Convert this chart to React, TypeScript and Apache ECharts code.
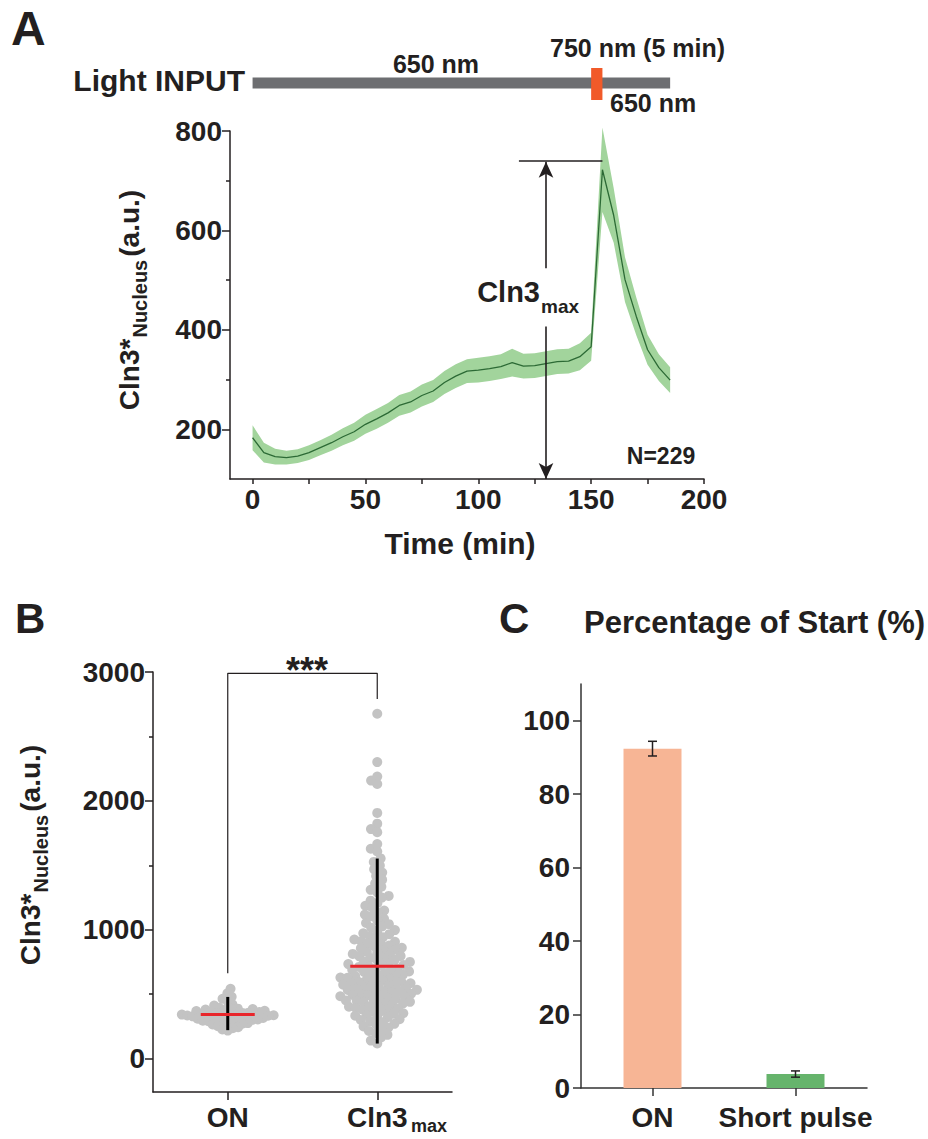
import React, { useEffect, useRef } from 'react';
import * as echarts from 'echarts';

const FONT = '"Liberation Sans", Arial, Helvetica, sans-serif';
const INK = '#231f20';

// ---------- Panel A : time course ----------
const timeMin = [0, 5, 10, 15, 20, 25, 30, 35, 40, 45, 50, 55, 60, 65, 70, 75, 80, 85, 90, 95, 100, 105, 110, 115, 120, 125, 130, 135, 140, 145, 150, 155, 160, 165, 170, 175, 180, 185];
const meanNucleus = [183, 153, 145, 143, 146, 153, 163, 173, 185, 195, 210, 221, 233, 248, 255, 268, 277, 294, 307, 317, 319, 322, 326, 334, 327, 328, 332, 336, 337, 346, 366, 722, 630, 501, 427, 360, 324, 299];
const semNucleus = [25, 20, 16, 14, 14, 15, 15, 16, 17, 18, 19, 20, 20, 21, 21, 22, 22, 23, 24, 24, 25, 25, 25, 28, 25, 25, 25, 25, 25, 27, 28, 85, 55, 45, 38, 30, 27, 26];
const xTicksA = [0, 50, 100, 150, 200];
const xMinorTicksA = [0, 25, 50, 75, 100, 125, 150, 175, 200];
const yTicksA = [200, 400, 600, 800];
const yMinorTicksA = [300, 500, 700];

const lightFrom = [0, 150];
const lightTo = [185, 155];
const lightNames = ['650 nm', '750 nm (5 min)'];

const arrowTime = 130;
const maxLevel = 740;
const maxLineFrom = 118;
const maxLineTo = 155;
const arrowGapTop = 524;
const arrowGapBottom = 407;
const cellCount = 229;

// ---------- Panel B : swarm ----------
const groupNames = ['ON', 'Cln3'];
const onValues = [541, 506, 479, 463, 449, 421, 411, 398, 393, 387, 384, 380, 376, 371, 368, 366, 363, 360, 356, 354, 351, 348, 346, 344, 341, 339, 336, 334, 332, 329, 327, 325, 322, 320, 317, 315, 312, 309, 307, 303, 300, 297, 294, 290, 287, 283, 279, 275, 270, 264, 258, 251, 243, 235, 226, 217];
const cln3maxValues = [2676, 2301, 2188, 2157, 2131, 1906, 1823, 1781, 1757, 1664, 1628, 1607, 1553, 1526, 1499, 1468, 1443, 1416, 1388, 1359, 1334, 1309, 1290, 1262, 1249, 1225, 1207, 1186, 1172, 1148, 1136, 1117, 1104, 1085, 1071, 1052, 1043, 1026, 1015, 997, 988, 972, 965, 949, 942, 929, 924, 911, 906, 893, 889, 877, 872, 860, 855, 844, 840, 827, 823, 812, 808, 796, 793, 781, 779, 766, 764, 752, 750, 739, 733, 726, 724, 713, 711, 701, 699, 688, 686, 676, 673, 663, 661, 651, 649, 639, 638, 628, 626, 617, 615, 605, 604, 594, 593, 584, 582, 573, 572, 563, 561, 553, 552, 543, 542, 533, 532, 523, 522, 513, 512, 503, 502, 493, 492, 483, 481, 473, 471, 462, 460, 451, 449, 440, 438, 428, 426, 416, 414, 404, 402, 392, 389, 379, 376, 365, 362, 351, 347, 336, 332, 321, 316, 305, 299, 288, 281, 269, 262, 249, 240, 226, 214, 198, 184, 163, 139, 117];
const groupMean = [341, 716];
const groupLow = [220, 116];
const groupHigh = [478, 1552];
const yTicksB = [0, 1000, 2000, 3000];
const yMinorTicksB = [500, 1500, 2500];
const bracketBottom = [662, 2790];
const bracketTop = 2990;

// ---------- Panel C : bars ----------
const startCategories = ['ON', 'Short pulse'];
const startPercent = [92.4, 3.8];
const startError = [2.0, 0.85];
const yTicksC = [0, 20, 40, 60, 80, 100];

// ---------- layout / style ----------
const GRID_A = { left: 230, top: 131, width: 474, height: 348 };
const GRID_L = { left: 230, top: 66, width: 474, height: 36 };
const GRID_B = { left: 153, top: 672, width: 299, height: 420 };
const GRID_C = { left: 581, top: 684, width: 286, height: 404 };
const B_MIN = -260, B_MAX = 3000;
const SWARM_SPACING = [5.5, 7];

let measureCtx: CanvasRenderingContext2D | null = null;
function measure(text: string, size: number): number {
  if (!measureCtx) measureCtx = document.createElement('canvas').getContext('2d');
  if (!measureCtx) return text.length * size * 0.6;
  measureCtx.font = `bold ${size}px ${FONT}`;
  return measureCtx.measureText(text).width;
}

function txt(text: string, x: number, y: number, size: number, align = 'left', color = INK): any {
  return {
    type: 'text', x, y, silent: true,
    style: {
      text, font: `bold ${size}px ${FONT}`, fill: color,
      align, verticalAlign: 'middle', textAlign: align, textVerticalAlign: 'middle',
    },
  };
}

function rotatedTitle(cx: number, cy: number, parts: { text: string; size: number; dy: number; gap: number }[]): any {
  const widths = parts.map((p) => measure(p.text, p.size));
  const total = widths.reduce((a, b, i) => a + b + parts[i].gap, 0);
  let pos = -total / 2;
  const children = parts.map((p, i) => {
    const el = txt(p.text, pos, p.dy, p.size, 'left');
    pos += widths[i] + p.gap;
    return el;
  });
  return { type: 'group', x: cx, y: cy, rotation: Math.PI / 2, children };
}

function beeswarm(values: number[], pxPerUnit: number, d: number): number[] {
  const order = values.map((_, i) => i).sort((a, b) => values[a] - values[b]);
  const placed: { x: number; y: number }[] = [];
  const out = new Array(values.length).fill(0);
  for (const i of order) {
    const y = values[i] * pxPerUnit;
    const near = placed.filter((p) => Math.abs(p.y - y) < d);
    const cands = [0];
    near.forEach((p) => {
      const w = Math.sqrt(d * d - (p.y - y) * (p.y - y));
      cands.push(p.x - w, p.x + w);
    });
    cands.sort((a, b) => Math.abs(a) - Math.abs(b) || a - b);
    let x = 0;
    for (const c of cands) {
      if (near.every((p) => (p.x - c) * (p.x - c) + (p.y - y) * (p.y - y) >= d * d - 1e-6)) { x = c; break; }
    }
    placed.push({ x, y });
    out[i] = x;
  }
  return out;
}

const lineStyle = { color: INK, width: 1.5 };
const plain = (v: number) => String(v);
const labelStyle = (margin: number) => ({ color: INK, fontFamily: FONT, fontWeight: 'bold', fontSize: 28, margin, formatter: plain });

function buildOption(): any {
  const mean = timeMin.map((t, i) => [t, meanNucleus[i]]);

  const pxPerUnitB = GRID_B.height / (B_MAX - B_MIN);
  const pxPerX = GRID_B.width / 2;
  const swarmData: number[][] = [];
  [onValues, cln3maxValues].forEach((vals, g) => {
    const offs = beeswarm(vals, pxPerUnitB, SWARM_SPACING[g]);
    vals.forEach((v, i) => swarmData.push([g + 0.5 + offs[i] / pxPerX, v]));
  });
  const markers = groupMean.map((m, g) => [g + 0.5, m, groupLow[g], groupHigh[g]]);
  const bracket = [[0.5, bracketBottom[0]], [0.5, bracketTop], [1.5, bracketTop], [1.5, bracketBottom[1]]];

  const grids = [GRID_A, GRID_L, GRID_B, GRID_C].map((g) => ({ ...g, containLabel: false, outerBoundsMode: 'none' }));

  return {
    animation: false,
    backgroundColor: '#ffffff',
    grid: grids,
    xAxis: [
      {
        gridIndex: 0, type: 'value', min: -10, max: 200,
        axisLine: { show: true, onZero: false, lineStyle },
        axisTick: { show: true, customValues: xMinorTicksA, length: 5, lineStyle },
        axisLabel: { ...labelStyle(6), customValues: xTicksA },
        splitLine: { show: false },
      },
      { gridIndex: 1, type: 'value', min: -10, max: 200, show: false },
      {
        gridIndex: 2, type: 'value', min: 0, max: 2,
        axisLine: { show: true, onZero: false, lineStyle },
        axisTick: { show: true, customValues: [0.5, 1.5], length: 8, lineStyle },
        axisLabel: {
          ...labelStyle(11), customValues: [0.5, 1.5],
          formatter: (v: number) => (v < 1 ? groupNames[0] : groupNames[1]),
        },
        splitLine: { show: false },
      },
      {
        gridIndex: 3, type: 'category', data: startCategories,
        axisLine: { show: true, onZero: false, lineStyle: { color: '#333', width: 1.5 } },
        axisTick: { show: true, alignWithLabel: true, length: 8, lineStyle: { color: '#333', width: 1.5 } },
        axisLabel: { ...labelStyle(15), formatter: undefined, interval: 0 },
        splitLine: { show: false },
      },
    ],
    yAxis: [
      {
        gridIndex: 0, type: 'value', min: 100, max: 800, position: 'left',
        axisLine: { show: true, onZero: false, lineStyle },
        axisTick: { show: true, customValues: yTicksA, length: 8, lineStyle },
        axisLabel: { ...labelStyle(8), customValues: yTicksA },
        splitLine: { show: false },
      },
      {
        gridIndex: 0, type: 'value', min: 100, max: 800, position: 'left',
        axisLine: { show: false, onZero: false },
        axisTick: { show: true, customValues: yMinorTicksA, length: 4, lineStyle },
        axisLabel: { show: false },
        splitLine: { show: false },
      },
      { gridIndex: 1, type: 'value', min: 0, max: 1, show: false },
      {
        gridIndex: 2, type: 'value', min: B_MIN, max: B_MAX, position: 'left',
        axisLine: { show: true, onZero: false, lineStyle },
        axisTick: { show: true, customValues: yTicksB, length: 8, lineStyle },
        axisLabel: { ...labelStyle(8), customValues: yTicksB },
        splitLine: { show: false },
      },
      {
        gridIndex: 2, type: 'value', min: B_MIN, max: B_MAX, position: 'left',
        axisLine: { show: false, onZero: false },
        axisTick: { show: true, customValues: yMinorTicksB, length: 4, lineStyle },
        axisLabel: { show: false },
        splitLine: { show: false },
      },
      {
        gridIndex: 3, type: 'value', min: 0, max: 110, position: 'left',
        axisLine: { show: true, onZero: false, lineStyle: { color: '#333', width: 1.5 } },
        axisTick: { show: true, customValues: yTicksC, length: 8, lineStyle: { color: '#333', width: 1.5 } },
        axisLabel: { ...labelStyle(11), customValues: yTicksC },
        splitLine: { show: false },
      },
    ],
    series: [
      {
        type: 'custom', xAxisIndex: 0, yAxisIndex: 0, silent: true, z: 1,
        data: [[timeMin[0], meanNucleus[0]]],
        renderItem: (_p: any, api: any) => {
          const upper = timeMin.map((t, i) => api.coord([t, meanNucleus[i] + semNucleus[i]]));
          const lower = timeMin.map((t, i) => api.coord([t, meanNucleus[i] - semNucleus[i]])).reverse();
          return { type: 'polygon', shape: { points: upper.concat(lower) }, style: { fill: '#a2d49c' } };
        },
      },
      {
        type: 'line', xAxisIndex: 0, yAxisIndex: 0, data: mean, symbol: 'none', silent: true, z: 3,
        lineStyle: { color: '#2c6a35', width: 1.3 },
        markLine: {
          silent: true, animation: false, symbol: ['none', 'none'],
          label: { show: false },
          lineStyle: { color: INK, width: 1.6, type: 'solid' },
          data: [
            [{ coord: [arrowTime, arrowGapTop], symbol: 'none' }, { coord: [arrowTime, maxLevel - 2], symbol: 'arrow', symbolSize: [11, 16] }],
            [{ coord: [arrowTime, arrowGapBottom], symbol: 'none' }, { coord: [arrowTime, 100], symbol: 'arrow', symbolSize: [11, 16] }],
            [{ coord: [maxLineFrom, maxLevel], symbol: 'none' }, { coord: [maxLineTo, maxLevel], symbol: 'none' }],
          ],
        },
      },
      {
        type: 'custom', xAxisIndex: 1, yAxisIndex: 2, silent: true,
        data: lightFrom.map((f, i) => [f, lightTo[i]]),
        renderItem: (params: any, api: any) => {
          const s = api.coord([api.value(0), 0.5]);
          const e = api.coord([api.value(1), 0.5]);
          const pulse = params.dataIndex === 1;
          const h = pulse ? 32 : 11;
          return {
            type: 'rect',
            shape: { x: s[0], y: s[1] - h / 2 - (pulse ? 0 : 1), width: e[0] - s[0], height: h },
            style: { fill: pulse ? '#f15a29' : '#6d6e71' },
          };
        },
      },
      {
        type: 'scatter', xAxisIndex: 2, yAxisIndex: 3, data: swarmData, symbolSize: 10, silent: true,
        itemStyle: { color: '#c3c3c3', opacity: 1 },
      },
      {
        type: 'custom', xAxisIndex: 2, yAxisIndex: 3, data: markers, silent: true, z: 5,
        renderItem: (_p: any, api: any) => {
          const c = api.value(0);
          const pM = api.coord([c, api.value(1)]);
          const pLo = api.coord([c, api.value(2)]);
          const pHi = api.coord([c, api.value(3)]);
          return {
            type: 'group',
            children: [
              { type: 'line', shape: { x1: pLo[0], y1: pLo[1], x2: pHi[0], y2: pHi[1] }, style: { stroke: '#000', lineWidth: 3 } },
              { type: 'line', shape: { x1: pM[0] - 27, y1: pM[1], x2: pM[0] + 27, y2: pM[1] }, style: { stroke: '#e8262b', lineWidth: 3 } },
            ],
          };
        },
      },
      {
        type: 'line', xAxisIndex: 2, yAxisIndex: 3, data: bracket, symbol: 'none', silent: true,
        lineStyle: { color: INK, width: 1.2 },
      },
      {
        type: 'bar', xAxisIndex: 3, yAxisIndex: 5, barWidth: 58, silent: true,
        data: startPercent.map((v, i) => ({ value: v, itemStyle: { color: i === 0 ? '#f7b595' : '#66b46c' } })),
      },
      {
        type: 'custom', xAxisIndex: 3, yAxisIndex: 5, silent: true, z: 5,
        data: startPercent.map((v, i) => [i, v - startError[i], v + startError[i]]),
        renderItem: (_p: any, api: any) => {
          const lo = api.coord([api.value(0), api.value(1)]);
          const hi = api.coord([api.value(0), api.value(2)]);
          const st = { stroke: INK, lineWidth: 1.5 };
          return {
            type: 'group',
            children: [
              { type: 'line', shape: { x1: lo[0], y1: lo[1], x2: hi[0], y2: hi[1] }, style: st },
              { type: 'line', shape: { x1: lo[0] - 4.5, y1: lo[1], x2: lo[0] + 4.5, y2: lo[1] }, style: st },
              { type: 'line', shape: { x1: hi[0] - 4.5, y1: hi[1], x2: hi[0] + 4.5, y2: hi[1] }, style: st },
            ],
          };
        },
      },
    ],
    graphic: [
      txt('A', 11, 28, 48),
      txt('Light INPUT', 245, 80, 30, 'right'),
      txt(lightNames[0], 436, 64, 25, 'center'),
      txt(lightNames[1], 550, 47.5, 25, 'left'),
      txt(lightNames[0], 610, 102.5, 25, 'left'),
      txt('Cln3', 540, 292, 29, 'right'),
      txt('max', 541, 306, 19, 'left'),
      txt(`N=${cellCount}`, 661, 456, 23, 'center'),
      txt('Time (min)', 460, 543, 30, 'center'),
      rotatedTitle(129, 300, [
        { text: 'Cln3*', size: 28, dy: 0, gap: 1 },
        { text: 'Nucleus', size: 20, dy: 11, gap: 3 },
        { text: '(a.u.)', size: 28, dy: 0, gap: 0 },
      ]),
      txt('B', 15, 618, 42),
      rotatedTitle(30, 855, [
        { text: 'Cln3*', size: 28, dy: 0, gap: 1 },
        { text: 'Nucleus', size: 20, dy: 11, gap: 3 },
        { text: '(a.u.)', size: 28, dy: 0, gap: 0 },
      ]),
      txt('max', 411, 1126, 18, 'left'),
      txt('***', 307, 670, 36, 'center'),
      txt('C', 499, 618, 42),
      txt('Percentage of Start (%)', 584, 622, 31, 'left'),
    ],
  };
}

export default function App() {
  const ref = useRef<HTMLDivElement>(null);
  useEffect(() => {
    if (!ref.current) return;
    const chart = echarts.init(ref.current, null, { renderer: 'svg' });
    chart.setOption(buildOption());
    return () => chart.dispose();
  }, []);
  return (
    <div
      ref={ref}
      style={{ position: 'absolute', left: 0, top: 0, width: 928, height: 1139, background: '#ffffff' }}
    />
  );
}
